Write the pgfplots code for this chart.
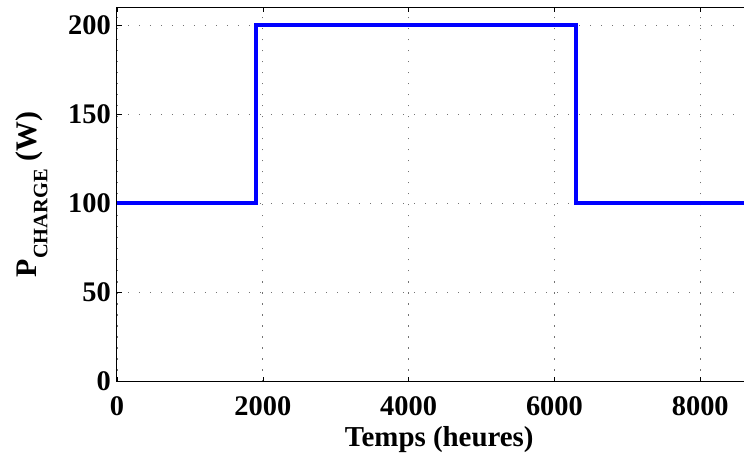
\documentclass[border=0pt]{standalone}
\usepackage{pgfplots}
\pgfplotsset{compat=1.18}
\usepackage{fontspec}
\setmainfont{Liberation Serif}
\begin{document}
\bfseries
\begin{tikzpicture}
\begin{axis}[
  name=main,
  scale only axis,
  width=627bp, height=374bp,
  xmin=0, xmax=8600, ymin=0, ymax=210,
  axis x line=box, axis y line*=left,
  axis line style={line width=1bp, black},
  xtick={0,2000,4000,6000,8000},
  ytick={0,50,100,150,200},
  tick align=inside,
  major tick length=5bp,
  tick style={line width=0.6bp, black},
  /pgf/number format/assume math mode=true,
  /pgf/number format/1000 sep={},
  ticklabel style={font=\fontsize{28.5}{30}\selectfont\bfseries, inner sep=0pt},
  xticklabel style={yshift=-14.5bp},
  yticklabel style={xshift=-6bp},
  grid=major,
  major grid style={black!55, line width=1.2bp, dash pattern=on 1.2bp off 9.8bp},
  xlabel={Temps (heures)},
  xlabel style={font=\fontsize{29}{30}\selectfont\bfseries, inner sep=0pt, at={(axis description cs:0.514,-0.174)}, anchor=base},
  ylabel={P\raisebox{-0.35em}{\fontsize{20.5}{21}\selectfont CHARGE} (W)},
  ylabel style={font=\fontsize{30}{31}\selectfont\bfseries, inner sep=0pt, at={(axis description cs:-0.1276,0.5)}, anchor=base, rotate=0},
  clip=true,
]
\addplot[blue, line width=4bp, line join=miter] coordinates {
(0,100) (1910,100) (1910,200) (6290,200) (6290,100) (8600,100)
};
\end{axis}
\pgfresetboundingbox
\path[use as bounding box] (main.south west) ++(-117bp,-72.5bp) rectangle ++(744bp,454bp);
\end{tikzpicture}
\end{document}
